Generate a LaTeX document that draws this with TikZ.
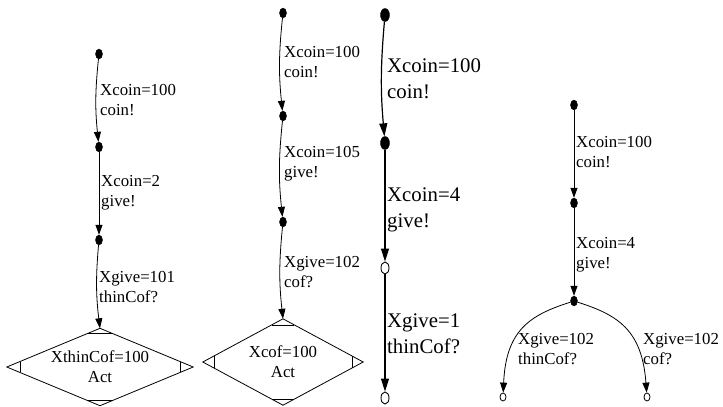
\documentclass[tikz,border=0pt]{standalone}
\usepackage{fontspec}
\setmainfont{Liberation Serif}
\usetikzlibrary{arrows.meta,shapes.geometric,calc}
\newcommand\drawMdiamond[1]{%
  \draw[line width=0.8pt] (#1.north) -- (#1.east) -- (#1.south) -- (#1.west) -- cycle;
  \draw[line width=0.6pt] ($(#1.north)!0.14!(#1.west)$) -- ($(#1.north)!0.14!(#1.east)$);
  \draw[line width=0.6pt] ($(#1.south)!0.14!(#1.west)$) -- ($(#1.south)!0.14!(#1.east)$);
  \draw[line width=0.6pt] ($(#1.west)!0.14!(#1.north)$) -- ($(#1.west)!0.14!(#1.south)$);
  \draw[line width=0.6pt] ($(#1.east)!0.14!(#1.north)$) -- ($(#1.east)!0.14!(#1.south)$);
}
\begin{document}
\begin{tikzpicture}[x=1pt,y=-1pt,
  dot/.style={ellipse,fill=black,draw=black,inner sep=0pt,minimum width=7pt,minimum height=10pt},
  bigdot/.style={dot,minimum width=9pt,minimum height=13pt},
  hollow/.style={ellipse,draw=black,fill=white,inner sep=0pt,line width=0.9pt,minimum width=8pt,minimum height=12pt},
  smallhollow/.style={hollow,line width=0.8pt,minimum width=6pt,minimum height=8pt},
  lbl/.style={anchor=west,align=left,inner sep=0pt,font=\fontsize{16.8}{20}\selectfont},
  biglbl/.style={lbl,font=\fontsize{20.8}{26}\selectfont},
  trans/.style={draw,line width=0.8pt,-{Triangle[width=7pt,length=10pt]}},
  bigtrans/.style={draw,line width=1.2pt,-{Triangle[width=8pt,length=13pt]}},
  mdbox/.style={inner sep=0pt,align=center,font=\fontsize{16.8}{20}\selectfont},
  ]
\useasboundingbox[fill=white] (0,0) rectangle (723,407);

% ---------- graph 1 ----------
\node[dot] (a1) at (99,54) {};
\node[dot] (a2) at (99,147) {};
\node[dot] (a3) at (99,240) {};
\node[mdbox,minimum width=186pt,minimum height=77pt] (ad) at (100,367) {XthinCof=100\\Act};
\drawMdiamond{ad}
\draw[trans] (a1) to[bend right=6] (a2);
\draw[trans] (a2) -- (a3);
\draw[trans] (a3) to[bend right=6] (ad.north);
\node[lbl] (la1) at (100,100) {Xcoin=100\\coin!};
\node[lbl] (la2) at (101,193) {Xcoin=2\\give!};
\node[lbl] (la3) at (99,287) {Xgive=101\\thinCof?};

% ---------- graph 2 ----------
\node[dot] (b1) at (283,13) {};
\node[dot] (b2) at (283,116) {};
\node[dot] (b3) at (283,222) {};
\node[mdbox,minimum width=160pt,minimum height=86pt] (bd) at (283,362) {Xcof=100\\Act};
\drawMdiamond{bd}
\draw[trans] (b1) to[bend right=6] (b2);
\draw[trans] (b2) to[bend right=6] (b3);
\draw[trans] (b3) to[bend right=6] (bd.north);
\node[lbl] (lb1) at (284,62) {Xcoin=100\\coin!};
\node[lbl] (lb2) at (284,164) {Xcoin=105\\give!};
\node[lbl] (lb3) at (284,272) {Xgive=102\\cof?};

% ---------- graph 3 ----------
\node[bigdot] (c1) at (385,15) {};
\node[bigdot] (c2) at (385,143) {};
\node[hollow] (c3) at (385,268) {};
\node[hollow] (c4) at (385,398) {};
\draw[bigtrans] (c1) to[bend right=5] (c2);
\draw[bigtrans] (c2) -- (c3);
\draw[bigtrans] (c3) -- (c4);
\node[biglbl] (lc1) at (387,79) {Xcoin=100\\coin!};
\node[biglbl] (lc2) at (387,210) {Xcoin=4\\give!};
\node[biglbl] (lc3) at (387,334) {Xgive=1\\thinCof?};

% ---------- graph 4 ----------
\node[dot] (d1) at (574,105) {};
\node[dot] (d2) at (574,203) {};
\node[dot] (d3) at (574,301) {};
\node[smallhollow] (d4) at (503,397) {};
\node[smallhollow] (d5) at (647,397) {};
\draw[trans] (d1) -- (d2);
\draw[trans] (d2) -- (d3);
\draw[trans] (d3) .. controls (530,315) and (506,330) .. (d4);
\draw[trans] (d3) .. controls (618,315) and (642,330) .. (d5);
\node[lbl] (ld1) at (576,152) {Xcoin=100\\coin!};
\node[lbl] (ld2) at (576,255) {Xcoin=4\\give!};
\node[lbl] (ld3) at (518,349) {Xgive=102\\thinCof?};
\node[lbl] (ld4) at (643,349) {Xgive=102\\cof?};
\end{tikzpicture}
\end{document}
